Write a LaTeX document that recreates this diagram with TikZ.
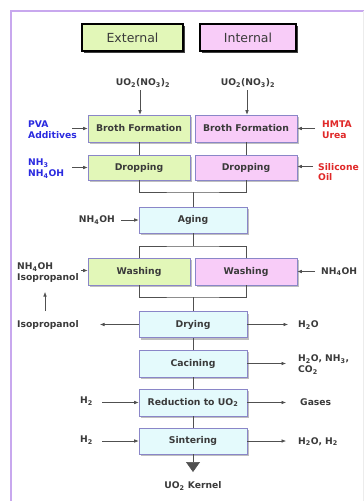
\documentclass[tikz,border=0pt]{standalone}
\usepackage{fontspec}
\setmainfont{DejaVu Sans}
\usetikzlibrary{shadows,arrows.meta}
\definecolor{extg}{HTML}{E2F7B8}
\definecolor{intp}{HTML}{F8CCF8}
\definecolor{comc}{HTML}{E4FAFC}
\definecolor{boxb}{HTML}{8A86C8}
\definecolor{txt}{HTML}{3A3A3A}
\definecolor{lnc}{HTML}{505050}
\definecolor{framec}{HTML}{C8A8EE}
\definecolor{bluet}{HTML}{2A2AE0}
\definecolor{redt}{HTML}{E02828}
\begin{document}
\begin{tikzpicture}[x=1pt,y=-1pt,
  lbl/.style={font=\bfseries\fontsize{9.2}{10.8}\selectfont, text=txt, inner sep=0pt, align=left},
  box/.style={draw=boxb, line width=0.6pt, minimum height=27pt, inner sep=0pt,
    font=\bfseries\fontsize{9.3}{10}\selectfont, text=txt,
    drop shadow={shadow xshift=2pt,shadow yshift=-2pt,fill=gray!50,opacity=1}},
  extbox/.style={box, fill=extg, minimum width=102pt},
  intbox/.style={box, fill=intp, minimum width=102pt},
  combox/.style={box, fill=comc, minimum width=108pt},
  hdr/.style={draw=black, line width=1.3pt, minimum height=27pt, inner sep=0pt,
    font=\fontsize{12.5}{14}\selectfont, text=txt,
    drop shadow={shadow xshift=2pt,shadow yshift=-2pt,fill=black!75,opacity=1}},
  conn/.style={draw=lnc, line width=0.6pt},
  arr/.style={conn, -{Latex[length=4.5pt,width=3.6pt]}}
]
\useasboundingbox (0,0) rectangle (364,501);
\fill[white] (0,0) rectangle (364,501);
\draw[framec, line width=1.6pt] (11,501) -- (11,11) -- (364,11);
\draw[gray!15, line width=0.6pt] (363,11) -- (363,501);

% headers
\node[hdr, fill=extg, minimum width=101pt] (hext) at (132.5,37.5) {External};
\node[hdr, fill=intp, minimum width=96pt] (hint) at (248,37.5) {Internal};

% feeds
\node[lbl] (uoL) at (143,83) {UO\textsubscript{2}(NO\textsubscript{3})\textsubscript{2}};
\node[lbl] (uoR) at (248,83) {UO\textsubscript{2}(NO\textsubscript{3})\textsubscript{2}};

% boxes
\node[extbox] (bfE) at (139,128.5) {Broth Formation};
\node[intbox] (bfI) at (246,128.5) {Broth Formation};
\node[extbox, minimum height=25pt] (drE) at (139,167.5) {Dropping};
\node[intbox, minimum height=25pt] (drI) at (246,167.5) {Dropping};
\node[combox, minimum height=26pt] (aging) at (193,220) {Aging};
\node[extbox] (waE) at (139,271.5) {Washing};
\node[intbox] (waI) at (246,271.5) {Washing};
\node[combox, minimum height=26pt] (dry) at (193,324.5) {Drying};
\node[combox] (cac) at (193,363.5) {Cacining};
\node[combox] (red) at (193,402.5) {Reduction to UO\textsubscript{2}};
\node[combox, minimum height=26pt] (sin) at (193,441) {Sintering};

% vertical connections
\coordinate (uoLa) at (140,90);
\coordinate (uoRa) at (247,90);
\draw[arr] (uoLa) -- (bfE.north -| uoLa);
\draw[arr] (uoRa) -- (bfI.north -| uoRa);
\draw[conn] (bfE.south) -- (drE.north);
\draw[conn] (bfI.south) -- (drI.north);
\coordinate (j1) at (193,192);
\draw[conn] (drE.south) |- (j1) -| (drI.south);
\draw[conn] (j1) -- (aging.north);
\coordinate (j2) at (193,246);
\draw[conn] (aging.south) -- (j2);
\draw[conn] (waE.north) |- (j2) -| (waI.north);
\coordinate (j3) at (193,297);
\draw[conn] (waE.south) |- (j3) -| (waI.south);
\draw[conn] (j3) -- (dry.north);
\draw[conn] (dry.south) -- (cac.north);
\draw[conn] (cac.south) -- (red.north);
\draw[conn] (red.south) -- (sin.north);
\coordinate (kt) at (193,472);
\draw[conn, -{Triangle[length=10pt,width=14pt]}, fill=black] (sin.south) -- (kt);
\node[lbl] (kern) at (193,486) {UO\textsubscript{2} Kernel};

% left inputs
\node[lbl, text=bluet, anchor=west] (pva) at (28,129.5) {PVA\\Additives};
\coordinate (pvaa) at (72,128.5);
\draw[arr] (pvaa) -- (bfE.west);
\node[lbl, text=bluet, anchor=west] (nh3) at (28,168.5) {NH\textsubscript{3}\\NH\textsubscript{4}OH};
\coordinate (nh3a) at (72,167.5);
\draw[arr] (nh3a) -- (drE.west);
\node[lbl, anchor=east] (nhag) at (115,220) {NH\textsubscript{4}OH};
\coordinate (nhaga) at (121,220);
\draw[arr] (nhaga) -- (aging.west);
\node[lbl, anchor=west] (nhwa) at (17,272.5) {NH\textsubscript{4}OH\\Isopropanol};
\coordinate (nhwaa) at (81,270.5);
\draw[arr] (nhwaa) -- (nhwaa -| waE.west);
\node[lbl, anchor=west] (isod) at (17,324.5) {Isopropanol};
\coordinate (isot) at (45,311);
\coordinate (isou) at (45,292);
\draw[arr] (isot) -- (isou);
\coordinate (isoa) at (100,324.5);
\draw[arr] (dry.west) -- (isoa);
\node[lbl, anchor=east] (h2a) at (93,401) {H\textsubscript{2}};
\coordinate (h2aa) at (102,402.5);
\draw[arr] (h2aa) -- (red.west);
\node[lbl, anchor=east] (h2b) at (93,440) {H\textsubscript{2}};
\coordinate (h2ba) at (102,441);
\draw[arr] (h2ba) -- (sin.west);

% right inputs
\node[lbl, text=redt, anchor=west] (hmta) at (322,129.5) {HMTA\\Urea};
\coordinate (hmtaa) at (315,128.5);
\draw[arr] (hmtaa) -- (bfI.east);
\node[lbl, text=redt, anchor=west] (sil) at (318,172) {Silicone\\Oil};
\coordinate (sila) at (313,166.5);
\draw[arr] (sila) -- (sila -| drI.east);
\node[lbl, anchor=west] (nhwi) at (321,271.5) {NH\textsubscript{4}OH};
\coordinate (nhwia) at (315,271.5);
\draw[arr] (nhwia) -- (waI.east);

% right outputs
\coordinate (h2oa) at (288,324.5);
\draw[arr] (dry.east) -- (h2oa);
\node[lbl, anchor=west] (h2o) at (298,325) {H\textsubscript{2}O};
\coordinate (caca) at (286,363.5);
\draw[arr] (cac.east) -- (caca);
\node[lbl, anchor=west] (cacl) at (298,364.5) {H\textsubscript{2}O, NH\textsubscript{3},\\CO\textsubscript{2}};
\coordinate (reda) at (286,402.5);
\draw[arr] (red.east) -- (reda);
\node[lbl, anchor=west] (gas) at (300,402.5) {Gases};
\coordinate (sina) at (286,441);
\draw[arr] (sin.east) -- (sina);
\node[lbl, anchor=west] (sinl) at (298,441.5) {H\textsubscript{2}O, H\textsubscript{2}};
\end{tikzpicture}
\end{document}
